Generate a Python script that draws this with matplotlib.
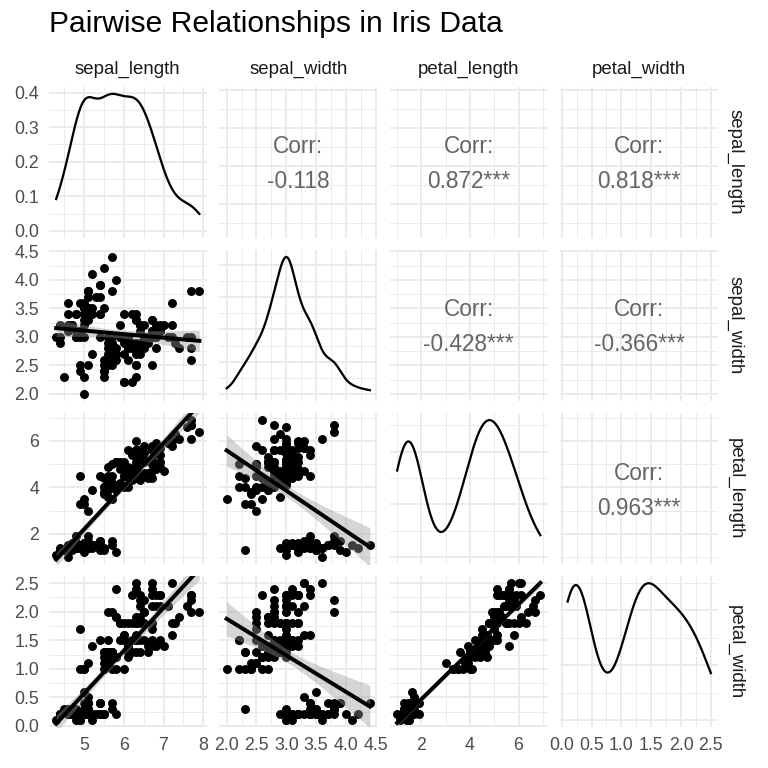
import math
import numpy as np
import matplotlib
matplotlib.use('Agg')
import matplotlib.pyplot as plt
from matplotlib.ticker import FixedLocator, MaxNLocator, AutoMinorLocator

plt.rcParams.update({'font.family': ['Liberation Sans', 'DejaVu Sans'], 'font.size': 13})

variables = ['sepal_length', 'sepal_width', 'petal_length', 'petal_width']

sepal_length = [5.1, 4.9, 4.7, 4.6, 5.0, 5.4, 4.6, 5.0, 4.4, 4.9,
                5.4, 4.8, 4.8, 4.3, 5.8, 5.7, 5.4, 5.1, 5.7, 5.1,
                5.4, 5.1, 4.6, 5.1, 4.8, 5.0, 5.0, 5.2, 5.2, 4.7,
                4.8, 5.4, 5.2, 5.5, 4.9, 5.0, 5.5, 4.9, 4.4, 5.1,
                5.0, 4.5, 4.4, 5.0, 5.1, 4.8, 5.1, 4.6, 5.3, 5.0,
                7.0, 6.4, 6.9, 5.5, 6.5, 5.7, 6.3, 4.9, 6.6, 5.2,
                5.0, 5.9, 6.0, 6.1, 5.6, 6.7, 5.6, 5.8, 6.2, 5.6,
                5.9, 6.1, 6.3, 6.1, 6.4, 6.6, 6.8, 6.7, 6.0, 5.7,
                5.5, 5.5, 5.8, 6.0, 5.4, 6.0, 6.7, 6.3, 5.6, 5.5,
                5.5, 6.1, 5.8, 5.0, 5.6, 5.7, 5.7, 6.2, 5.1, 5.7,
                6.3, 5.8, 7.1, 6.3, 6.5, 7.6, 4.9, 7.3, 6.7, 7.2,
                6.5, 6.4, 6.8, 5.7, 5.8, 6.4, 6.5, 7.7, 7.7, 6.0,
                6.9, 5.6, 7.7, 6.3, 6.7, 7.2, 6.2, 6.1, 6.4, 7.2,
                7.4, 7.9, 6.4, 6.3, 6.1, 7.7, 6.3, 6.4, 6.0, 6.9,
                6.7, 6.9, 5.8, 6.8, 6.7, 6.7, 6.3, 6.5, 6.2, 5.9]

sepal_width = [3.5, 3.0, 3.2, 3.1, 3.6, 3.9, 3.4, 3.4, 2.9, 3.1,
               3.7, 3.4, 3.0, 3.0, 4.0, 4.4, 3.9, 3.5, 3.8, 3.8,
               3.4, 3.7, 3.6, 3.3, 3.4, 3.0, 3.4, 3.5, 3.4, 3.2,
               3.1, 3.4, 4.1, 4.2, 3.1, 3.2, 3.5, 3.6, 3.0, 3.4,
               3.5, 2.3, 3.2, 3.5, 3.8, 3.0, 3.8, 3.2, 3.7, 3.3,
               3.2, 3.2, 3.1, 2.3, 2.8, 2.8, 3.3, 2.4, 2.9, 2.7,
               2.0, 3.0, 2.2, 2.9, 2.9, 3.1, 3.0, 2.7, 2.2, 2.5,
               3.2, 2.8, 2.5, 2.8, 2.9, 3.0, 2.8, 3.0, 2.9, 2.6,
               2.4, 2.4, 2.7, 2.7, 3.0, 3.4, 3.1, 2.3, 3.0, 2.5,
               2.6, 3.0, 2.6, 2.3, 2.7, 3.0, 2.9, 2.9, 2.5, 2.8,
               3.3, 2.7, 3.0, 2.9, 3.0, 3.0, 2.5, 2.9, 2.5, 3.6,
               3.2, 2.7, 3.0, 2.5, 2.8, 3.2, 3.0, 3.8, 2.6, 2.2,
               3.2, 2.8, 2.8, 2.7, 3.3, 3.2, 2.8, 3.0, 2.8, 3.0,
               2.8, 3.8, 2.8, 2.8, 2.6, 3.0, 3.4, 3.1, 3.0, 3.1,
               3.1, 3.1, 2.7, 3.2, 3.3, 3.0, 2.5, 3.0, 3.4, 3.0]

petal_length = [1.4, 1.4, 1.3, 1.5, 1.4, 1.7, 1.4, 1.5, 1.4, 1.5,
                1.5, 1.6, 1.4, 1.1, 1.2, 1.5, 1.3, 1.4, 1.7, 1.5,
                1.7, 1.5, 1.0, 1.7, 1.9, 1.6, 1.6, 1.5, 1.4, 1.6,
                1.6, 1.5, 1.5, 1.4, 1.5, 1.2, 1.3, 1.4, 1.3, 1.5,
                1.3, 1.3, 1.3, 1.6, 1.9, 1.4, 1.6, 1.4, 1.5, 1.4,
                4.7, 4.5, 4.9, 4.0, 4.6, 4.5, 4.7, 3.3, 4.6, 3.9,
                3.5, 4.2, 4.0, 4.7, 3.6, 4.4, 4.5, 4.1, 4.5, 3.9,
                4.8, 4.0, 4.9, 4.7, 4.3, 4.4, 4.8, 5.0, 4.5, 3.5,
                3.8, 3.7, 3.9, 5.1, 4.5, 4.5, 4.7, 4.4, 4.1, 4.0,
                4.4, 4.6, 4.0, 3.3, 4.2, 4.2, 4.2, 4.3, 3.0, 4.1,
                6.0, 5.1, 5.9, 5.6, 5.8, 6.6, 4.5, 6.3, 5.8, 6.1,
                5.1, 5.3, 5.5, 5.0, 5.1, 5.3, 5.5, 6.7, 6.9, 5.0,
                5.7, 4.9, 6.7, 4.9, 5.7, 6.0, 4.8, 4.9, 5.6, 5.8,
                6.1, 6.4, 5.6, 5.1, 5.6, 6.1, 5.6, 5.5, 4.8, 5.4,
                5.6, 5.1, 5.1, 5.9, 5.7, 5.2, 5.0, 5.2, 5.4, 5.1]

petal_width = [0.2, 0.2, 0.2, 0.2, 0.2, 0.4, 0.3, 0.2, 0.2, 0.1,
               0.2, 0.2, 0.1, 0.1, 0.2, 0.4, 0.4, 0.3, 0.3, 0.3,
               0.2, 0.4, 0.2, 0.5, 0.2, 0.2, 0.4, 0.2, 0.2, 0.2,
               0.2, 0.4, 0.1, 0.2, 0.2, 0.2, 0.2, 0.1, 0.2, 0.2,
               0.3, 0.3, 0.2, 0.6, 0.4, 0.3, 0.2, 0.2, 0.2, 0.2,
               1.4, 1.5, 1.5, 1.3, 1.5, 1.3, 1.6, 1.0, 1.3, 1.4,
               1.0, 1.5, 1.0, 1.4, 1.3, 1.4, 1.5, 1.0, 1.5, 1.1,
               1.8, 1.3, 1.5, 1.2, 1.3, 1.4, 1.4, 1.7, 1.5, 1.0,
               1.1, 1.0, 1.2, 1.6, 1.5, 1.6, 1.5, 1.3, 1.3, 1.3,
               1.2, 1.4, 1.2, 1.0, 1.3, 1.2, 1.3, 1.3, 1.1, 1.3,
               2.5, 1.9, 2.1, 1.8, 2.2, 2.1, 1.7, 1.8, 1.8, 2.5,
               2.0, 1.9, 2.1, 2.0, 2.4, 2.3, 1.8, 2.2, 2.3, 1.5,
               2.3, 2.0, 2.0, 1.8, 2.1, 1.8, 1.8, 1.8, 2.1, 1.6,
               1.9, 2.0, 2.2, 1.5, 1.4, 2.3, 2.4, 1.8, 1.8, 2.1,
               2.4, 2.3, 1.9, 2.3, 2.5, 2.3, 1.9, 2.0, 2.3, 1.8]

# axis breaks per variable (major, minor)
major_breaks = {'sepal_length': [5, 6, 7, 8],
                'sepal_width': [2.0, 2.5, 3.0, 3.5, 4.0, 4.5],
                'petal_length': [2, 4, 6],
                'petal_width': [0.0, 0.5, 1.0, 1.5, 2.0, 2.5]}
tick_labels = {'sepal_length': ['5', '6', '7', '8'],
               'sepal_width': ['2.0', '2.5', '3.0', '3.5', '4.0', '4.5'],
               'petal_length': ['2', '4', '6'],
               'petal_width': ['0.0', '0.5', '1.0', '1.5', '2.0', '2.5']}
minor_breaks = {'sepal_length': [4.5, 5.5, 6.5, 7.5],
                'sepal_width': [2.25, 2.75, 3.25, 3.75, 4.25],
                'petal_length': [1, 3, 5, 7],
                'petal_width': [0.25, 0.75, 1.25, 1.75, 2.25]}

data = {'sepal_length': np.array(sepal_length), 'sepal_width': np.array(sepal_width),
        'petal_length': np.array(petal_length), 'petal_width': np.array(petal_width)}

GRID = '#EBEBEB'
TICK_COL = '#4D4D4D'
STRIP_COL = '#1A1A1A'
CORR_COL = '#656565'
TICK_SIZE = 13.3
STRIP_SIZE = 14
CORR_SIZE = 17
T_975 = 1.9761  # t quantile, df = 148


def expanded(v):
    lo, hi = v.min(), v.max()
    pad = (hi - lo) * 0.05
    return lo - pad, hi + pad


def nrd0(v):
    q75, q25 = np.percentile(v, [75, 25])
    return 0.9 * min(v.std(ddof=1), (q75 - q25) / 1.34) * len(v) ** -0.2


def density(v, n=512):
    xs = np.linspace(v.min(), v.max(), n)
    bw = nrd0(v)
    z = (xs[:, None] - v[None, :]) / bw
    ys = np.exp(-0.5 * z ** 2).sum(axis=1) / (len(v) * bw * math.sqrt(2 * math.pi))
    return xs, ys


def corr_label(x, y):
    r = np.corrcoef(x, y)[0, 1]
    n = len(x)
    t = r * math.sqrt((n - 2) / (1 - r ** 2))
    p = math.erfc(abs(t) / math.sqrt(2))
    stars = '***' if p < 0.001 else '**' if p < 0.01 else '*' if p < 0.05 else '.' if p < 0.1 else ''
    return '%.3f%s' % (r, stars)


def style_axis(ax, xvar, yvar):
    for s in ax.spines.values():
        s.set_visible(False)
    ax.set_xlim(*expanded(data[xvar]))
    ax.xaxis.set_major_locator(FixedLocator(major_breaks[xvar]))
    ax.xaxis.set_minor_locator(FixedLocator(minor_breaks[xvar]))
    ax.set_xticklabels(tick_labels[xvar])
    if yvar is not None:
        ax.set_ylim(*expanded(data[yvar]))
        ax.yaxis.set_major_locator(FixedLocator(major_breaks[yvar]))
        ax.yaxis.set_minor_locator(FixedLocator(minor_breaks[yvar]))
        ax.set_yticklabels(tick_labels[yvar])
    ax.grid(True, which='major', color=GRID, linewidth=1.5)
    ax.grid(True, which='minor', color=GRID, linewidth=0.75)
    ax.set_axisbelow(True)
    ax.tick_params(which='both', length=0, pad=7.5, labelcolor=TICK_COL, labelsize=TICK_SIZE)


fig, axs = plt.subplots(4, 4, figsize=(8, 8), dpi=96)
plt.subplots_adjust(left=49 / 768, right=718 / 768, bottom=1 - 727 / 768, top=1 - 87 / 768,
                    wspace=0.0825, hspace=0.083)

for i, yvar in enumerate(variables):
    for j, xvar in enumerate(variables):
        ax = axs[i, j]
        x = data[xvar]
        y = data[yvar]
        if i == j:
            xs, ys = density(x)
            style_axis(ax, xvar, None)
            ax.plot(xs, ys, color='black', linewidth=1.7)
            ax.set_ylim(0 - ys.max() * 0.05, ys.max() * 1.05)
            ax.yaxis.set_major_locator(MaxNLocator(nbins=5, steps=[1, 2, 2.5, 5, 10]))
            ax.yaxis.set_minor_locator(AutoMinorLocator(2))
            ax.grid(True, which='major', color=GRID, linewidth=1.5)
            ax.grid(True, which='minor', color=GRID, linewidth=0.75)
        elif i < j:
            style_axis(ax, xvar, yvar)
            ax.text(0.5, 0.56, 'Corr:', transform=ax.transAxes, ha='center', va='baseline',
                    fontsize=CORR_SIZE, color=CORR_COL)
            ax.text(0.5, 0.327, corr_label(x, y), transform=ax.transAxes, ha='center',
                    va='baseline', fontsize=CORR_SIZE, color=CORR_COL)
        else:
            style_axis(ax, xvar, yvar)
            ax.scatter(x, y, s=45, color='black', linewidths=0, zorder=2)
            b, a = np.polyfit(x, y, 1)
            xs = np.linspace(x.min(), x.max(), 80)
            yhat = a + b * xs
            resid = y - (a + b * x)
            s = math.sqrt((resid ** 2).sum() / (len(x) - 2))
            se = s * np.sqrt(1 / len(x) + (xs - x.mean()) ** 2 / ((x - x.mean()) ** 2).sum())
            ax.fill_between(xs, yhat - T_975 * se, yhat + T_975 * se, color='#999999',
                            alpha=0.4, linewidth=0, zorder=3)
            ax.plot(xs, yhat, color='black', linewidth=3, zorder=4)

        if j != 0:
            ax.tick_params(labelleft=False)
        if i != 3:
            ax.tick_params(labelbottom=False)
        if i == 0:
            ax.text(0.5, 1 + 18 / 150, xvar, transform=ax.transAxes, ha='center', va='center',
                    fontsize=STRIP_SIZE, color=STRIP_COL)
        if j == 3:
            ax.text(1 + 17 / 158, 0.5, yvar, transform=ax.transAxes, ha='center', va='center',
                    rotation=-90, fontsize=STRIP_SIZE, color=STRIP_COL)

fig.text(49 / 768, 1 - 32 / 768, 'Pairwise Relationships in Iris Data', ha='left', va='baseline',
         fontsize=22.5, color='black')

fig.savefig('out.png', dpi=96)
